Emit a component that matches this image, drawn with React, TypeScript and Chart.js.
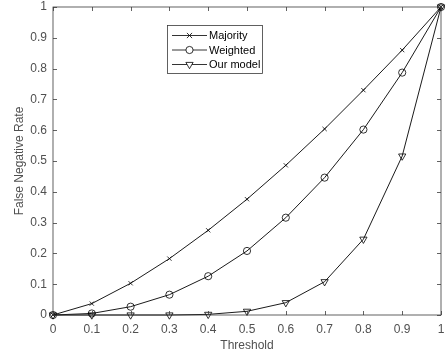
import React, { useEffect, useRef } from "react";
import { Chart, registerables } from "chart.js";

Chart.register(...registerables);

const thresholds = [0, 0.1, 0.2, 0.3, 0.4, 0.5, 0.6, 0.7, 0.8, 0.9, 1];
const majority = [0, 0.037, 0.103, 0.183, 0.275, 0.376, 0.486, 0.604, 0.73, 0.86, 1];
const weighted = [0, 0.005, 0.027, 0.066, 0.126, 0.208, 0.316, 0.446, 0.602, 0.787, 1];
const ourModel = [0, 0, 0, 0, 0.002, 0.012, 0.04, 0.108, 0.246, 0.516, 1];
const seriesNames = ["Majority", "Weighted", "Our model"];
const xTitle = "Threshold";
const yTitle = "False Negative Rate";

const AXIS = "#3a3a3a";
const TEXT = "#505050";
const FONT = "Liberation Sans, Arial, sans-serif";

const fmt = (v: number) => String(Number(Number(v).toFixed(1)));

function drawMarker(ctx: CanvasRenderingContext2D, kind: string, x: number, y: number) {
  ctx.save();
  ctx.strokeStyle = "#000";
  ctx.lineWidth = 0.8;
  ctx.beginPath();
  if (kind === "cross") {
    const r = 2.6;
    ctx.moveTo(x - r, y - r);
    ctx.lineTo(x + r, y + r);
    ctx.moveTo(x - r, y + r);
    ctx.lineTo(x + r, y - r);
    ctx.stroke();
  } else if (kind === "circle") {
    ctx.fillStyle = "#fff";
    ctx.arc(x, y, 3.6, 0, Math.PI * 2);
    ctx.fill();
    ctx.stroke();
  } else {
    const r = 4.2;
    ctx.fillStyle = "#fff";
    ctx.moveTo(x - r * 0.866, y - r * 0.5);
    ctx.lineTo(x + r * 0.866, y - r * 0.5);
    ctx.lineTo(x, y + r);
    ctx.closePath();
    ctx.fill();
    ctx.stroke();
  }
  ctx.restore();
}

const framePlugin = {
  id: "frame",
  afterDatasetsDraw(chart: any) {
    const { ctx, chartArea: a, scales } = chart;
    const xs = scales.x;
    const ys = scales.y;
    ctx.save();
    ctx.strokeStyle = AXIS;
    ctx.lineWidth = 0.8;
    ctx.strokeRect(a.left, a.top, a.right - a.left, a.bottom - a.top);
    const tl = 4;
    ctx.beginPath();
    for (const t of thresholds) {
      const px = Math.round(xs.getPixelForValue(t)) + 0.5;
      ctx.moveTo(px, a.bottom);
      ctx.lineTo(px, a.bottom - tl);
      ctx.moveTo(px, a.top);
      ctx.lineTo(px, a.top + tl);
    }
    for (let i = 0; i <= 10; i++) {
      const py = Math.round(ys.getPixelForValue(i / 10)) + 0.5;
      ctx.moveTo(a.left, py);
      ctx.lineTo(a.left + tl, py);
      ctx.moveTo(a.right, py);
      ctx.lineTo(a.right - tl, py);
    }
    ctx.stroke();

    // legend
    const lx = 167.5, ly = 25.5, lw = 95, lh = 48;
    ctx.fillStyle = "#fff";
    ctx.fillRect(lx, ly, lw, lh);
    ctx.strokeStyle = AXIS;
    ctx.lineWidth = 0.8;
    ctx.strokeRect(lx, ly, lw, lh);
    const kinds = ["cross", "circle", "tri"];
    ctx.font = `11px ${FONT}`;
    ctx.textBaseline = "middle";
    ctx.textAlign = "left";
    for (let i = 0; i < 3; i++) {
      const y = 35.5 + i * 14.5;
      ctx.strokeStyle = "#000";
      ctx.lineWidth = 0.8;
      ctx.beginPath();
      ctx.moveTo(172, y);
      ctx.lineTo(207, y);
      ctx.stroke();
      drawMarker(ctx, kinds[i], 189.5, y);
      ctx.fillStyle = "#000";
      ctx.fillText(seriesNames[i], 209, y + 0.5);
    }
    ctx.restore();
  },
};

export default function App() {
  const ref = useRef<HTMLCanvasElement>(null);
  useEffect(() => {
    if (!ref.current) return;
    const mk = (vals: number[]) => thresholds.map((t, i) => ({ x: t, y: vals[i] }));
    const common = {
      borderColor: "#000",
      backgroundColor: "#fff",
      pointBorderColor: "#000",
      pointBackgroundColor: "rgba(255,255,255,0)",
      borderWidth: 0.9,
      pointBorderWidth: 0.8,
      clip: false as any,
      tension: 0,
      fill: false,
    };
    const chart = new Chart(ref.current, {
      type: "line",
      data: {
        datasets: [
          { ...common, label: seriesNames[0], data: mk(majority), pointStyle: "crossRot", pointRadius: 3 },
          { ...common, label: seriesNames[1], data: mk(weighted), pointStyle: "circle", pointRadius: 3.6 },
          { ...common, label: seriesNames[2], data: mk(ourModel), pointStyle: "triangle", pointRadius: 4.2, pointRotation: 180 },
        ],
      },
      plugins: [framePlugin],
      options: {
        animation: false,
        responsive: false,
        maintainAspectRatio: false,
        layout: { padding: { top: 7, right: 3, left: 0, bottom: 0 } },
        plugins: { legend: { display: false }, tooltip: { enabled: false } },
        scales: {
          x: {
            type: "linear",
            min: 0,
            max: 1,
            afterBuildTicks: (s: any) => {
              s.ticks = thresholds.map((v) => ({ value: v }));
            },
            afterFit: (s: any) => {
              s.height = 41;
              s.paddingLeft = 0;
              s.paddingRight = 0;
            },
            grid: { display: false, drawTicks: false },
            border: { display: false },
            ticks: {
              color: TEXT,
              font: { family: FONT, size: 12 },
              padding: 7,
              maxRotation: 0,
              autoSkip: false,
              callback: (v: any) => fmt(v),
            },
            title: {
              display: true,
              text: xTitle,
              color: TEXT,
              font: { family: FONT, size: 12 },
              padding: { top: 0, bottom: 3 },
            },
          },
          y: {
            type: "linear",
            min: 0,
            max: 1,
            afterBuildTicks: (s: any) => {
              s.ticks = thresholds.map((v) => ({ value: v }));
            },
            afterFit: (s: any) => {
              s.width = 53;
              s.paddingTop = 0;
              s.paddingBottom = 0;
            },
            grid: { display: false, drawTicks: false },
            border: { display: false },
            ticks: {
              color: TEXT,
              font: { family: FONT, size: 12 },
              padding: 6,
              autoSkip: false,
              callback: (v: any) => fmt(v),
            },
            title: {
              display: true,
              text: yTitle,
              color: TEXT,
              font: { family: FONT, size: 12 },
              padding: { top: 12, bottom: 0 },
            },
          },
        },
      } as any,
    });
    return () => chart.destroy();
  }, []);
  return (
    <div style={{ position: "absolute", left: 0, top: 0, width: 446, height: 356, background: "#fff" }}>
      <canvas ref={ref} width={446} height={356} style={{ width: 446, height: 356 }} />
    </div>
  );
}
